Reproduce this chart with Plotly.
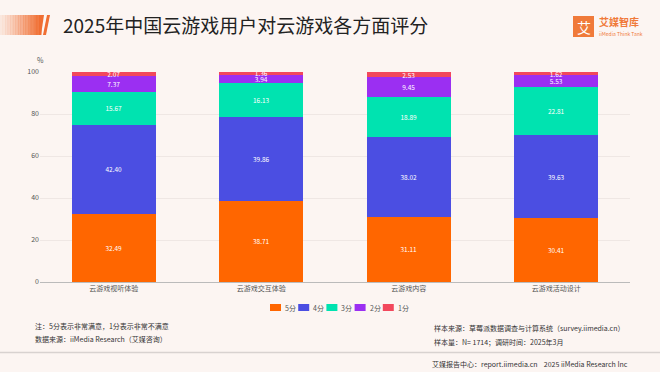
import plotly.graph_objects as go

categories = ["云游戏视听体验", "云游戏交互体验", "云游戏内容", "云游戏活动设计"]
series_names = ["5分", "4分", "3分", "2分", "1分"]
score5 = [32.49, 38.71, 31.11, 30.41]
score4 = [42.40, 39.86, 38.02, 39.63]
score3 = [15.67, 16.13, 18.89, 22.81]
score2 = [7.37, 3.94, 9.45, 5.53]
score1 = [2.07, 1.36, 2.53, 1.62]
y_ticks = [0, 20, 40, 60, 80, 100]

colors = ["#FF6600", "#4B4EE2", "#00E3B0", "#9B2FF2", "#F2485C"]
FONT = "Noto Sans CJK SC"

fig = go.Figure()
for name, vals, col in zip(series_names, [score5, score4, score3, score2, score1], colors):
    fig.add_trace(go.Bar(
        x=categories, y=vals, name=name, marker=dict(color=col, line=dict(width=0)),
        text=[f"{v:.2f}" for v in vals], textposition="inside", insidetextanchor="middle",
        constraintext="none", textangle=0,
        textfont=dict(color="white", size=6.5, family=FONT),
    ))

bg = "#FCF5F2"
fig.update_layout(
    barmode="stack", bargap=0.43,
    width=660, height=372,
    margin=dict(l=40, r=30, t=72, b=90, autoexpand=False),
    paper_bgcolor=bg, plot_bgcolor=bg,
    font=dict(family=FONT, color="#444"),
    showlegend=False,
    xaxis=dict(showgrid=False, showline=True, linecolor="#BBBBBB", linewidth=1,
               tickfont=dict(size=7, color="#555"), ticks=""),
    yaxis=dict(range=[0, 100], tickvals=y_ticks, showgrid=True, gridcolor="#EFE7E4",
               gridwidth=1, zeroline=False, tickfont=dict(size=7, color="#555"), ticks=""),
)


def px(x):
    return (x - 40) / 590


def py(y):
    return (282 - y) / 210


shapes = []
# title accent gradient bar
n = 16
for i in range(n):
    x0 = i * 41 / n
    x1 = (i + 1) * 41 / n + 0.4
    op = 0.10 + 0.90 * (i / (n - 1)) ** 1.2
    shapes.append(dict(type="rect", xref="paper", yref="paper",
                       x0=px(x0), x1=px(x1), y0=py(35), y1=py(15),
                       fillcolor=f"rgba(240,110,50,{op:.2f})", line=dict(width=0), layer="below"))
shapes.append(dict(type="path", xref="paper", yref="paper",
                   path=f"M {px(41)},{py(35)} L {px(41)},{py(15)} L {px(44)},{py(15)} Z",
                   fillcolor="#F06E32", line=dict(width=0)))
shapes.append(dict(type="path", xref="paper", yref="paper",
                   path=f"M {px(43)},{py(35)} L {px(46)},{py(35)} L {px(50)},{py(15)} L {px(47)},{py(15)} Z",
                   fillcolor="#F06E32", line=dict(width=0)))
# footer separator
shapes.append(dict(type="line", xref="paper", yref="paper",
                   x0=px(0), x1=px(660), y0=py(352.5), y1=py(352.5),
                   line=dict(color="#D8D2D0", width=1.5)))
# logo box
shapes.append(dict(type="rect", xref="paper", yref="paper",
                   x0=px(573), x1=px(594), y0=py(37), y1=py(16),
                   fillcolor="#F07A3A", line=dict(width=0)))

ann = []
# custom legend
for i, (name, col) in enumerate(zip(series_names, colors)):
    lx = 270 + 28.2 * i
    shapes.append(dict(type="rect", xref="paper", yref="paper",
                       x0=px(lx), x1=px(lx + 11), y0=py(311), y1=py(304),
                       fillcolor=col, line=dict(width=0)))
    ann.append(dict(text=name, x=px(lx + 13), y=py(307.5), xanchor="left", yanchor="middle",
                    font=dict(size=7, color="#555")))
fig.update_layout(shapes=shapes)

ann += [
    dict(text="2025年中国云游戏用户对云游戏各方面评分", x=px(61), y=py(25), xanchor="left", yanchor="middle",
         font=dict(size=19, color="#222")),
    dict(text="艾", x=px(583.5), y=py(26.5), xanchor="center", yanchor="middle",
         font=dict(size=14, color="white")),
    dict(text="<b>艾媒智库</b>", x=px(597), y=py(22), xanchor="left", yanchor="middle",
         font=dict(size=10, color="#F07A3A")),
    dict(text="iiMedia Think Tank", x=px(597), y=py(33), xanchor="left", yanchor="middle",
         font=dict(size=5, color="#F07A3A")),
    dict(text="%", x=px(40), y=py(60), xanchor="center", yanchor="middle",
         font=dict(size=7, color="#555")),
    dict(text="注：5分表示非常满意，1分表示非常不满意", x=px(33), y=py(326), xanchor="left", yanchor="middle",
         font=dict(size=7, color="#333")),
    dict(text="数据来源：iiMedia Research（艾媒咨询）", x=px(33), y=py(339), xanchor="left", yanchor="middle",
         font=dict(size=7, color="#333")),
    dict(text="样本来源：草莓派数据调查与计算系统（survey.iimedia.cn）", x=px(432), y=py(328), xanchor="left", yanchor="middle",
         font=dict(size=7, color="#333")),
    dict(text="样本量：N= 1714；调研时间：2025年3月", x=px(432), y=py(342), xanchor="left", yanchor="middle",
         font=dict(size=7, color="#333")),
    dict(text="艾媒报告中心：report.iimedia.cn    2025 iiMedia Research Inc", x=px(630), y=py(364), xanchor="right", yanchor="middle",
         font=dict(size=7, color="#333")),
]
for a in ann:
    a.update(xref="paper", yref="paper", showarrow=False)
fig.update_layout(annotations=ann)

fig.write_html("out.html", config={"displayModeBar": False},
               post_script="document.body.style.margin='0';document.body.style.background='#FCF5F2';")
